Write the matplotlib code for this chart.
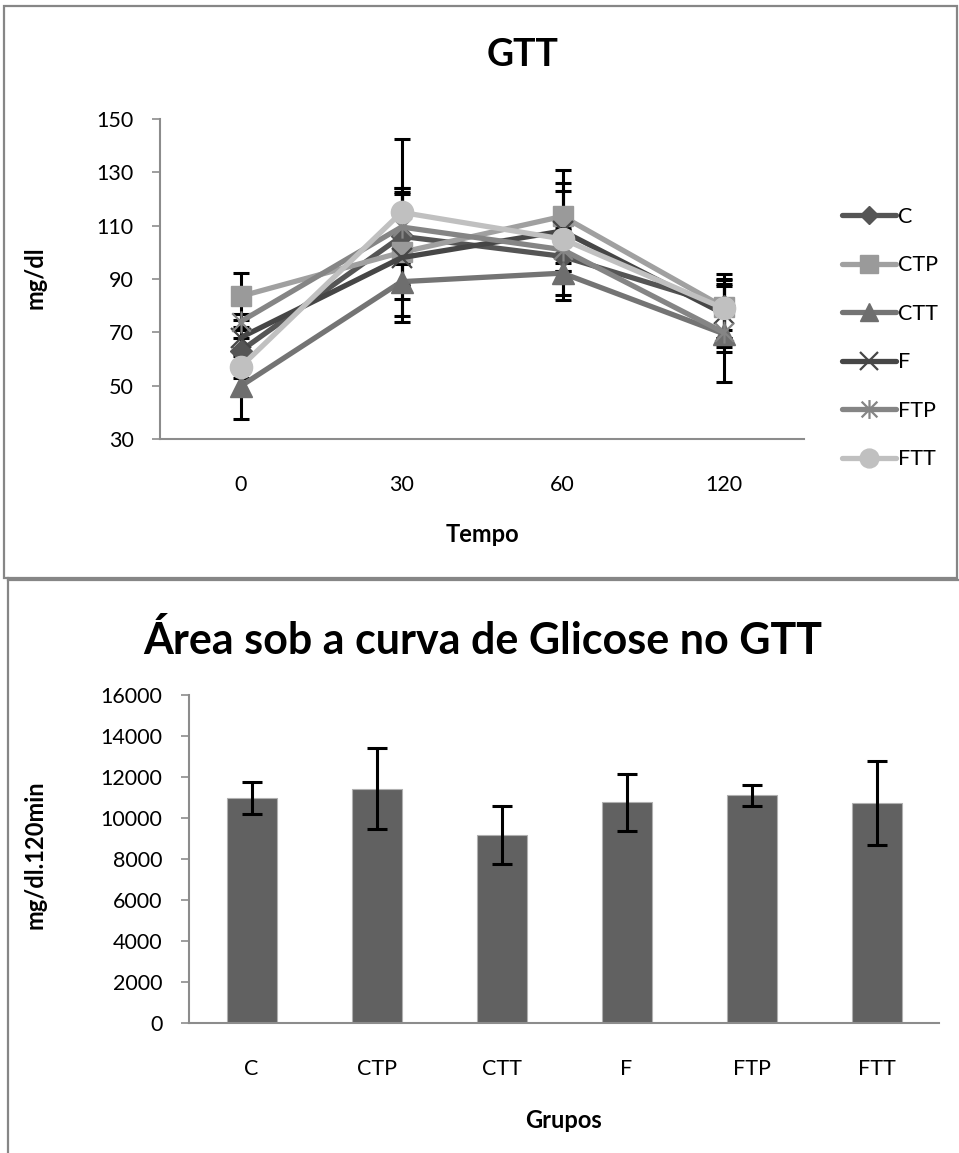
import matplotlib
matplotlib.use("Agg")
import matplotlib.pyplot as plt
from matplotlib.path import Path
from matplotlib.lines import Line2D
from matplotlib.patches import Rectangle

plt.rcParams['font.family'] = ['Lato', 'DejaVu Sans']

# ---------------- data ----------------
times = ['0', '30', '60', '120']
series_names = ['C', 'CTP', 'CTT', 'F', 'FTP', 'FTT']
C = [63, 106, 98.5, 80]
CTP = [83.5, 100, 113.5, 79.5]
CTT = [49.8, 89, 92.2, 69.5]
F = [68, 98, 108, 77]
FTP = [74, 109.5, 101, 70]
FTT = [57, 115, 105, 79]
C_err = [5, 18, 10, 12]
CTP_err = [8.7, 24, 17.4, 8.5]
CTT_err = [12.3, 6.5, 10, 18]
F_err = [4, 24, 15, 12.5]
FTP_err = [3, 13, 8, 7.5]
FTT_err = [4, 27.5, 21, 11]

groups = ['C', 'CTP', 'CTT', 'F', 'FTP', 'FTT']
auc = [10970, 11430, 9180, 10760, 11100, 10730]
auc_err = [770, 1970, 1400, 1400, 510, 2050]

# ---------------- style ----------------
W, H = 959, 1153
fig = plt.figure(figsize=(W / 100, H / 100), dpi=100)

def fx(px):
    return px / W

def fy(py):
    return 1 - py / H

axis_col = '#8c8c8c'

asterisk = Path([(-1, -1), (1, 1), (-1, 1), (1, -1), (0, -1.2), (0, 1.2)],
                [Path.MOVETO, Path.LINETO, Path.MOVETO, Path.LINETO, Path.MOVETO, Path.LINETO])

styles = {
    'C':   dict(color='#555555', marker='D', ms=11, mfc='#555555', mec='#555555', mew=1),
    'CTP': dict(color='#a0a0a0', marker='s', ms=15, mfc='#9a9a9a', mec='#9a9a9a', mew=1),
    'CTT': dict(color='#747474', marker='^', ms=16, mfc='#6e6e6e', mec='#6e6e6e', mew=1),
    'F':   dict(color='#464646', marker='x', ms=15, mfc='none', mec='#464646', mew=1.6),
    'FTP': dict(color='#858585', marker=asterisk, ms=16, mfc='none', mec='#858585', mew=1.6),
    'FTT': dict(color='#c0c0c0', marker='o', ms=16, mfc='#c0c0c0', mec='#c0c0c0', mew=1),
}
values = {'C': C, 'CTP': CTP, 'CTT': CTT, 'F': F, 'FTP': FTP, 'FTT': FTT}
errors = {'C': C_err, 'CTP': CTP_err, 'CTT': CTT_err, 'F': F_err, 'FTP': FTP_err, 'FTT': FTT_err}

TICK_FS = 15.5
LABEL_FS = 17

# ---------------- top chart ----------------
ax1 = fig.add_axes([fx(160), fy(439), fx(804) - fx(160), fy(119) - fy(439)])
xpos = list(range(len(times)))
handles = []
for name in series_names:
    st = styles[name]
    ax1.errorbar(xpos, values[name], yerr=errors[name], fmt='none', ecolor='black',
                 elinewidth=2.2, capsize=6, capthick=2.2, zorder=1)
    h, = ax1.plot(xpos, values[name], color=st['color'], lw=3.8, marker=st['marker'],
                  markersize=st['ms'], markerfacecolor=st['mfc'], markeredgecolor=st['mec'],
                  markeredgewidth=st['mew'], zorder=3, label=name, solid_capstyle='round')
    handles.append(h)

ax1.set_xlim(-0.5, len(times) - 0.5)
ax1.set_ylim(30, 150)
ax1.set_yticks(range(30, 151, 20))
ax1.set_xticks(xpos)
ax1.set_xticklabels(times)
ax1.tick_params(axis='y', length=6, width=1.2, color=axis_col, labelsize=TICK_FS, pad=13)
ax1.tick_params(axis='x', length=0, labelsize=TICK_FS, pad=26)
for s in ['top', 'right']:
    ax1.spines[s].set_visible(False)
for s in ['left', 'bottom']:
    ax1.spines[s].set_color(axis_col)
    ax1.spines[s].set_linewidth(1.5)

leg = ax1.legend(handles=handles, loc='upper left', bbox_to_anchor=(fx(842), fy(207)),
                 bbox_transform=fig.transFigure, frameon=False, fontsize=TICK_FS,
                 handlelength=2.5, handletextpad=0.12, labelspacing=1.32, borderpad=0,
                 borderaxespad=0, markerscale=0.85)

fig.text(fx(523), fy(55), 'GTT', ha='center', va='center', fontsize=27, fontweight='bold')
fig.text(fx(35), fy(278), 'mg/dl', ha='center', va='center', rotation=90, fontsize=LABEL_FS,
         fontweight='bold')
fig.text(fx(482), fy(535), 'Tempo', ha='center', va='center', fontsize=LABEL_FS,
         fontweight='bold')

# ---------------- bottom chart ----------------
ax2 = fig.add_axes([fx(189), fy(1023), fx(939) - fx(189), fy(695) - fy(1023)])
bpos = list(range(len(groups)))
ax2.bar(bpos, auc, width=0.4, color='#616161', edgecolor='#b0b0b0', linewidth=0.8, zorder=2)
ax2.errorbar(bpos, auc, yerr=auc_err, fmt='none', ecolor='black', elinewidth=2.2,
             capsize=7, capthick=2.2, zorder=3)
ax2.set_xlim(-0.5, len(groups) - 0.5)
ax2.set_ylim(0, 16000)
ax2.set_yticks(range(0, 16001, 2000))
ax2.set_xticks(bpos)
ax2.set_xticklabels(groups)
ax2.tick_params(axis='y', length=6, width=1.2, color=axis_col, labelsize=TICK_FS, pad=13)
ax2.tick_params(axis='x', length=0, labelsize=TICK_FS, pad=26)
for s in ['top', 'right']:
    ax2.spines[s].set_visible(False)
for s in ['left', 'bottom']:
    ax2.spines[s].set_color(axis_col)
    ax2.spines[s].set_linewidth(1.5)

fig.text(fx(483), fy(640), 'Área sob a curva de Glicose no GTT', ha='center', va='center',
         fontsize=31, fontweight='bold')
fig.text(fx(35), fy(855), 'mg/dl.120min', ha='center', va='center', rotation=90,
         fontsize=LABEL_FS, fontweight='bold')
fig.text(fx(564), fy(1120), 'Grupos', ha='center', va='center', fontsize=LABEL_FS,
         fontweight='bold')

# ---------------- chart frames ----------------
frame_col = '#868686'
fig.add_artist(Rectangle((fx(4), fy(578)), fx(957) - fx(4), fy(6) - fy(578),
                         transform=fig.transFigure, fill=False, edgecolor=frame_col, lw=1.6))
fig.add_artist(Line2D([fx(8), fx(8)], [fy(578), fy(1153)], transform=fig.transFigure,
                      color=frame_col, lw=1.6))
fig.add_artist(Line2D([fx(8), fx(959)], [fy(580), fy(580)], transform=fig.transFigure,
                      color=frame_col, lw=1.6))

fig.savefig('out.png', dpi=100, facecolor='white')
